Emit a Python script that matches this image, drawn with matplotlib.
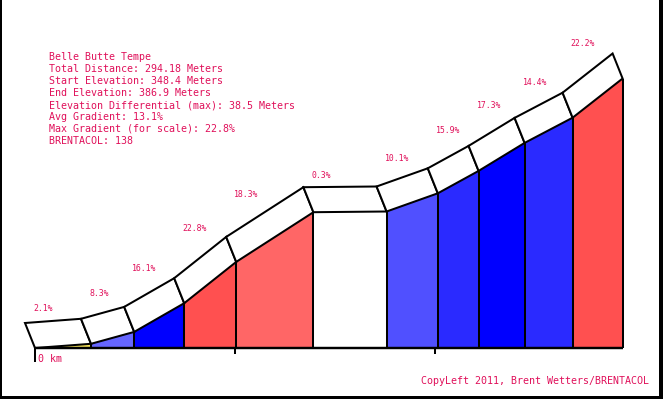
import matplotlib
matplotlib.use("Agg")
import matplotlib.pyplot as plt
from matplotlib.patches import Polygon, Rectangle
import numpy as np

###############################################################################
#                                   Data                                      #
###############################################################################
title = "Belle Butte Tempe"
info_lines = [
    "Belle Butte Tempe",
    "Total Distance: 294.18 Meters",
    "Start Elevation: 348.4 Meters",
    "End Elevation: 386.9 Meters",
    "Elevation Differential (max): 38.5 Meters",
    "Avg Gradient: 13.1%",
    "Max Gradient (for scale): 22.8%",
    "BRENTACOL: 138",
]
footer = "CopyLeft 2011, Brent Wetters/BRENTACOL"

# segment lengths in meters, elevations at each segment boundary
seg_dist = [28.0, 21.6, 25.0, 26.0, 38.6, 36.6, 25.6, 20.4, 23.0, 24.0, 25.0]
elev = [348.4, 349.0, 350.7, 354.8, 360.7, 367.8, 367.9, 370.5, 373.7, 377.7, 381.3, 386.9]
gradients = [2.1, 8.3, 16.1, 22.8, 18.3, 0.3, 10.1, 15.9, 17.3, 14.4, 22.2]
grad_labels = ["2.1%", "8.3%", "16.1%", "22.8%", "18.3%", "0.3%",
               "10.1%", "15.9%", "17.3%", "14.4%", "22.2%"]
tick_dist = [100, 200]

###############################################################################
#                                  Styling                                    #
###############################################################################
W, H = 663, 399
PX_X = 2.0          # pixels per meter (horizontal)
PX_Y = 7.0          # pixels per meter (vertical)
X0_PX, BASE_PX = 35, 348
DEPTH_X, DEPTH_Y = -10 / PX_X, 25 / PX_Y   # 3d band offset in data units
TXT = "#e0105a"
FONT = "DejaVu Sans Mono"
LW = 1.45


def grad_color(g):
    # colour bands by gradient
    if g < 1:
        return "white"
    if g < 5:
        return "#f7e45a"
    if g < 9:
        return "#6666ff"
    if g < 12:
        return "#5050ff"
    if g < 16:
        return "#2a2aff"
    if g < 18:
        return "#0000ff"
    if g < 20:
        return "#ff6666"
    return "#ff5050"


###############################################################################
#                                  Plotting                                   #
###############################################################################
fig = plt.figure(figsize=(W / 100, H / 100), dpi=100)
ax = fig.add_axes([0, 0, 1, 1])
base = elev[0]
ax.set_xlim(-X0_PX / PX_X, (W - X0_PX) / PX_X)
ax.set_ylim(base - (H - BASE_PX) / PX_Y, base + BASE_PX / PX_Y)
ax.axis("off")

xs = np.concatenate([[0], np.cumsum(seg_dist)])

# front faces
for i, g in enumerate(gradients):
    x0, x1 = xs[i], xs[i + 1]
    e0, e1 = elev[i], elev[i + 1]
    ax.add_patch(Polygon([(x0, base), (x0, e0), (x1, e1), (x1, base)],
                         closed=True, facecolor=grad_color(g), edgecolor="none"))

# segment dividers
for x, e in zip(xs[1:], elev[1:]):
    ax.plot([x, x], [base, e], color="black", lw=LW, solid_capstyle="butt")

# baseline + ticks
ax.plot([xs[0], xs[-1]], [base, base], color="black", lw=LW + 0.3, solid_capstyle="butt")
ax.plot([0, 0], [base, base - 14 / PX_Y], color="black", lw=LW, solid_capstyle="butt")
for t in tick_dist:
    ax.plot([t, t], [base, base - 6 / PX_Y], color="black", lw=LW, solid_capstyle="butt")

# 3d top band
for i in range(len(gradients)):
    x0, x1 = xs[i], xs[i + 1]
    e0, e1 = elev[i], elev[i + 1]
    ax.add_patch(Polygon([(x0, e0), (x1, e1), (x1 + DEPTH_X, e1 + DEPTH_Y),
                          (x0 + DEPTH_X, e0 + DEPTH_Y)],
                         closed=True, facecolor="white", edgecolor="black",
                         lw=LW, joinstyle="miter"))

# gradient labels
for i, (g, lab) in enumerate(zip(gradients, grad_labels)):
    ly = elev[i] + 36 / PX_Y + g / 100 * 24.3
    ax.text(xs[i] - 1, ly, lab, color=TXT, fontsize=5.9, family=FONT,
            ha="left", va="center")

ax.text(1.3, base - 11 / PX_Y, "0 km", color=TXT, fontsize=7.2, family=FONT,
        ha="left", va="center")

# info block
for k, line in enumerate(info_lines):
    fig.text(49 / W, 1 - (57 + 12 * k) / H, line, color=TXT, fontsize=7.2,
             family=FONT, ha="left", va="center")

fig.text(649 / W, 1 - 381 / H, footer, color=TXT, fontsize=7.2, family=FONT,
         ha="right", va="center")

# frame (left, right, bottom)
for x, y, w, h in [(0, 0, 2, H), (659, 0, 4, H), (0, 0, W, 3)]:
    fig.add_artist(Rectangle((x / W, y / H), w / W, h / H, transform=fig.transFigure,
                             facecolor="black", edgecolor="none"))

fig.savefig("out.png", dpi=100)
